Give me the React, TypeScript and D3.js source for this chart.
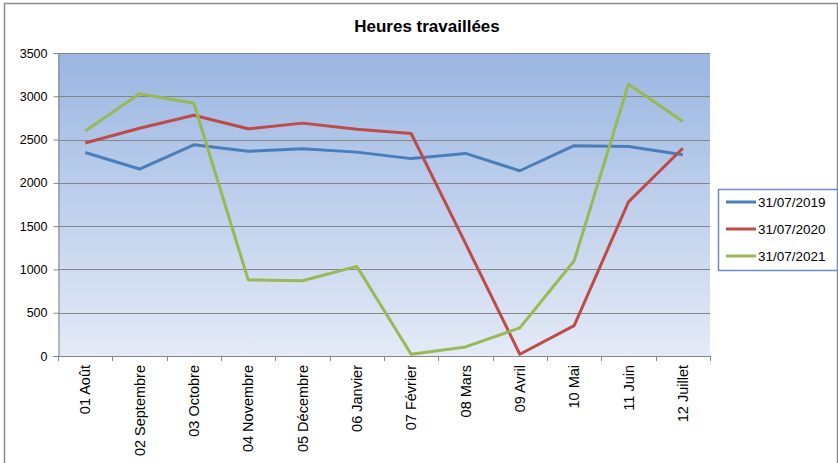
import { useEffect, useRef } from 'react';
import * as d3 from 'd3';

const months = [
  '01 Août', '02 Septembre', '03 Octobre', '04 Novembre', '05 Décembre', '06 Janvier',
  '07 Février', '08 Mars', '09 Avril', '10 Mai', '11 Juin', '12 Juillet',
];
const y2019 = [2350, 2160, 2440, 2365, 2395, 2355, 2280, 2340, 2140, 2430, 2420, 2325];
const y2020 = [2460, 2630, 2780, 2625, 2690, 2620, 2570, 1300, 20, 350, 1780, 2400];
const y2021 = [2600, 3030, 2920, 880, 870, 1035, 20, 105, 325, 1100, 3140, 2710];
const seriesNames = ['31/07/2019', '31/07/2020', '31/07/2021'];
const seriesColors = ['#4A7EBB', '#BE4B48', '#98B954'];
const yTicks = [0, 500, 1000, 1500, 2000, 2500, 3000, 3500];

export default function App() {
  const svgRef = useRef<SVGSVGElement>(null);

  useEffect(() => {
    const svg = d3.select(svgRef.current);
    svg.selectAll('*').remove();

    const W = 838;
    const H = 463;
    const plot = { left: 58, top: 53, right: 710, bottom: 356 };
    const font = 'Arial, "Liberation Sans", sans-serif';

    // chart frame
    svg.append('rect')
      .attr('x', 4.5).attr('y', 3.5)
      .attr('width', W - 5).attr('height', H + 10)
      .attr('fill', '#fff').attr('stroke', '#8c8c8c').attr('stroke-width', 1.5);

    const defs = svg.append('defs');
    const grad = defs.append('linearGradient')
      .attr('id', 'bg').attr('x1', 0).attr('y1', 0).attr('x2', 0).attr('y2', 1);
    grad.append('stop').attr('offset', '0%').attr('stop-color', '#9AB6E2');
    grad.append('stop').attr('offset', '100%').attr('stop-color', '#E4EAF6');

    const x = d3.scaleBand<string>().domain(months).range([plot.left, plot.right]);
    const y = d3.scaleLinear().domain([0, 3500]).range([plot.bottom, plot.top]);

    svg.append('rect')
      .attr('x', plot.left).attr('y', plot.top)
      .attr('width', plot.right - plot.left).attr('height', plot.bottom - plot.top)
      .attr('fill', 'url(#bg)');

    // gridlines
    svg.append('g')
      .selectAll('line')
      .data(yTicks.filter((t) => t > 0))
      .enter()
      .append('line')
      .attr('x1', plot.left).attr('x2', plot.right)
      .attr('y1', (d) => Math.round(y(d)) + 0.5).attr('y2', (d) => Math.round(y(d)) + 0.5)
      .attr('stroke', '#868686').attr('stroke-width', 1);

    // y axis
    const yAxis = svg.append('g')
      .attr('transform', `translate(${plot.left + 0.5},0)`)
      .call(d3.axisLeft(y).tickValues(yTicks).tickFormat(d3.format('d')).tickSize(5).tickPadding(6));
    yAxis.selectAll('text')
      .style('font-family', font).style('font-size', '12.5px').style('fill', '#000');
    yAxis.selectAll('.domain, .tick line').style('stroke', '#868686');

    // x axis
    const boundaries = months.map((m) => x(m) as number).concat([plot.right]);
    const xg = svg.append('g');
    xg.append('line')
      .attr('x1', plot.left - 5).attr('x2', plot.right)
      .attr('y1', plot.bottom + 0.5).attr('y2', plot.bottom + 0.5)
      .attr('stroke', '#868686');
    xg.selectAll('line.tick')
      .data(boundaries)
      .enter()
      .append('line')
      .attr('class', 'tick')
      .attr('x1', (d) => Math.round(d) + 0.5).attr('x2', (d) => Math.round(d) + 0.5)
      .attr('y1', plot.bottom).attr('y2', plot.bottom + 5)
      .attr('stroke', '#868686');
    xg.selectAll('text')
      .data(months)
      .enter()
      .append('text')
      .attr('transform', (d) => `translate(${(x(d) as number) + x.bandwidth() / 2 + 5},${plot.bottom + 9}) rotate(-90)`)
      .attr('text-anchor', 'end')
      .style('font-family', font).style('font-size', '14.5px').style('fill', '#000')
      .text((d) => d);

    // lines
    const allSeries = [y2019, y2020, y2021];
    const line = d3.line<number>()
      .x((_, i) => (x(months[i]) as number) + x.bandwidth() / 2)
      .y((d) => y(d));
    allSeries.forEach((vals, i) => {
      svg.append('path')
        .datum(vals)
        .attr('fill', 'none')
        .attr('stroke', seriesColors[i])
        .attr('stroke-width', 3)
        .attr('stroke-linejoin', 'round')
        .attr('d', line);
    });

    // title
    svg.append('text')
      .attr('x', 427).attr('y', 32)
      .attr('text-anchor', 'middle')
      .style('font-family', font).style('font-size', '17px').style('font-weight', 'bold')
      .text('Heures travaillées');

    // legend
    const lg = svg.append('g');
    lg.append('rect')
      .attr('x', 718.5).attr('y', 189.5).attr('width', 119).attr('height', 81)
      .attr('fill', '#fff').attr('stroke', '#6A8FCB').attr('stroke-width', 1.5);
    seriesNames.forEach((name, i) => {
      const ly = 202 + i * 27;
      lg.append('line')
        .attr('x1', 726).attr('x2', 756).attr('y1', ly).attr('y2', ly)
        .attr('stroke', seriesColors[i]).attr('stroke-width', 3);
      lg.append('text')
        .attr('x', 758).attr('y', ly + 5)
        .style('font-family', font).style('font-size', '13.5px')
        .text(name);
    });
  }, []);

  return (
    <svg
      ref={svgRef}
      width={838}
      height={463}
      style={{ position: 'absolute', left: 0, top: 0, display: 'block' }}
    />
  );
}
